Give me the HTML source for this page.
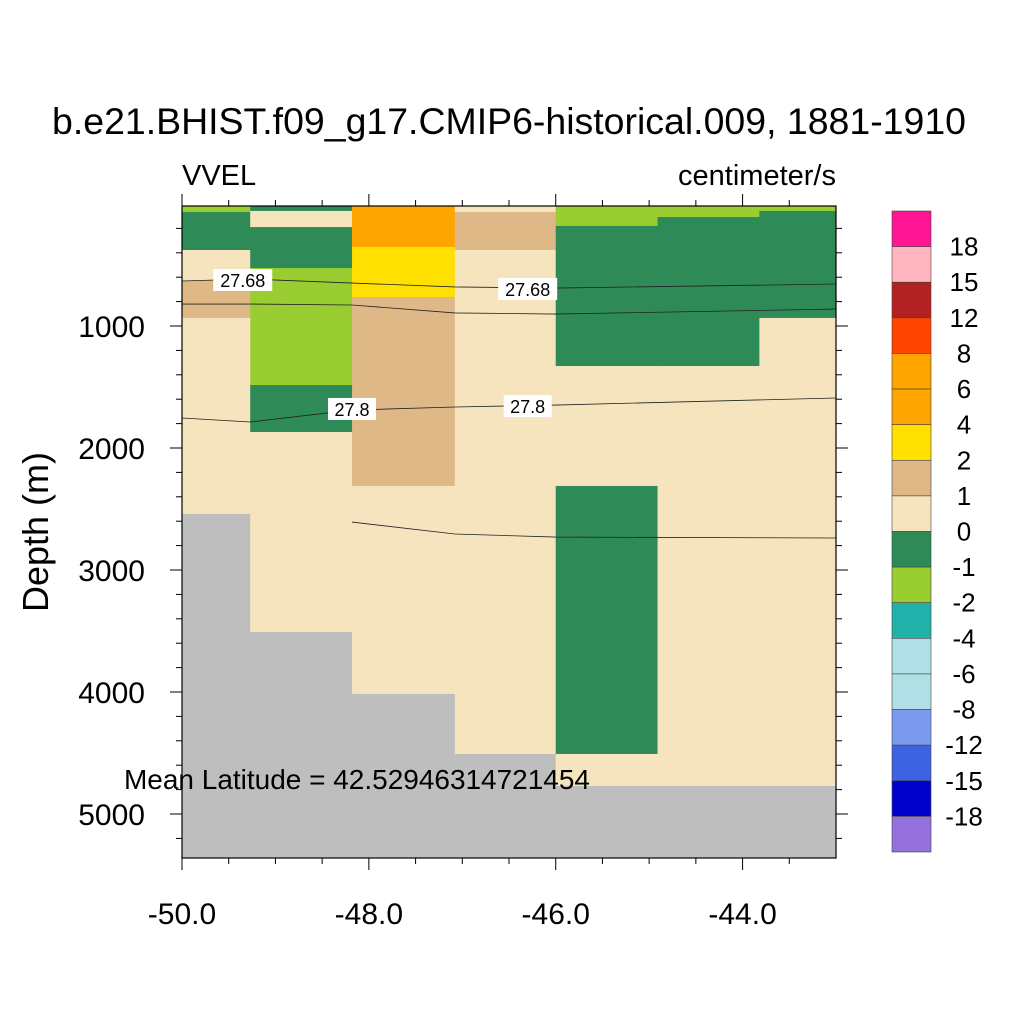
<!DOCTYPE html>
<html><head><meta charset="utf-8"><style>
body{margin:0;background:#fff;}
svg{display:block;font-family:"Liberation Sans",sans-serif;}
</style></head><body>
<svg id="chart" width="1024" height="1024" viewBox="0 0 1024 1024">
<rect width="1024" height="1024" fill="#fff"/>
<text x="509" y="134" font-size="37" text-anchor="middle" textLength="914" lengthAdjust="spacingAndGlyphs">b.e21.BHIST.f09_g17.CMIP6-historical.009, 1881-1910</text>
<text x="182" y="185" font-size="29">VVEL</text>
<text x="836" y="185" font-size="29" text-anchor="end">centimeter/s</text>
<g id="plot"></g>
<g id="axes"></g>
<g id="cbar"></g>
<text x="124" y="789" font-size="28" textLength="466" lengthAdjust="spacingAndGlyphs">Mean Latitude = 42.52946314721454</text>
<text transform="translate(48,532) rotate(-90)" font-size="36" text-anchor="middle">Depth (m)</text>
</svg>
<script>
// column lon edges
const colEdges = [-50.0, -49.27, -48.18, -47.08, -46.0, -44.91, -43.82, -43.0];
// cells per column: [depthTop, depthBottom, colorKey]
const columns = [
 [[0,66,'lg'],[66,377,'dg'],[377,627,'cr'],[627,934,'tan'],[934,2540,'cr'],[2540,5400,'gray']],
 [[0,57,'dg'],[57,189,'cr'],[189,525,'dg'],[525,1484,'lg'],[1484,1869,'dg'],[1869,3508,'cr'],[3508,5400,'gray']],
 [[0,352,'or'],[352,762,'ye'],[762,2311,'tan'],[2311,4016,'cr'],[4016,5400,'gray']],
 [[0,66,'cr'],[66,377,'tan'],[377,4508,'cr'],[4508,5400,'gray']],
 [[0,180,'lg'],[180,1328,'dg'],[1328,2311,'cr'],[2311,4508,'dg'],[4508,4770,'cr'],[4770,5400,'gray']],
 [[0,107,'lg'],[107,1328,'dg'],[1328,4770,'cr'],[4770,5400,'gray']],
 [[0,57,'lg'],[57,934,'dg'],[934,4770,'cr'],[4770,5400,'gray']]
];
const palette = {lg:'#9acd32',dg:'#2e8b57',cr:'#f5e4bd',tan:'#deb887',or:'#ffa500',ye:'#ffe000',gray:'#bebebe'};
// contour lines: lon and depth arrays
const contourLon = [-50.0, -49.27, -48.18, -47.08, -46.0, -43.0];
const contour1 = [631, 615, 648, 680, 689, 656];
const contour2 = [820, 820, 828, 893, 902, 861];
const contour3 = [1754, 1787, 1689, 1664, 1648, 1590];
const contour4Lon = [-48.18, -47.08, -46.0, -43.0];
const contour4 = [2607, 2705, 2730, 2738];
const contourLabels = [[-49.35,623,'27.68'],[-46.3,696,'27.68'],[-48.18,1680,'27.8'],[-46.3,1656,'27.8']];
const xTicks = [-50,-48,-46,-44];
const yTicks = [1000,2000,3000,4000,5000];
const cbarLabels = ['18','15','12','8','6','4','2','1','0','-1','-2','-4','-6','-8','-12','-15','-18'];
const cbarColors = ['#ff1493','#ffb6c1','#b22222','#ff4500','#ffa500','#ffa500','#ffe000','#deb887','#f5e4bd','#2e8b57','#9acd32','#20b2aa','#b0dfe5','#b0dfe5','#7b9aef','#3c63e2','#0000cd','#9370db'];

const X0=182,X1=836,Y0=206,Y1=858;
const sx = v => X0 + (v+50)/7*(X1-X0);
const sy = d => Math.min(Y1, Math.max(Y0, 204 + d*0.122));
const NS='http://www.w3.org/2000/svg';
function mk(tag, attrs, parent){const e=document.createElementNS(NS,tag);for(const k in attrs)e.setAttribute(k,attrs[k]);parent.appendChild(e);return e;}
const plot=document.getElementById('plot'), axes=document.getElementById('axes'), cbar=document.getElementById('cbar');

columns.forEach((cells,i)=>{
  cells.forEach(c=>{
    const y0=sy(c[0]), y1=sy(c[1]);
    const r=mk('rect',{x:sx(colEdges[i]),y:y0,width:sx(colEdges[i+1])-sx(colEdges[i])+0.5,height:y1-y0+0.5,fill:palette[c[2]]},plot);
    
    
  });
});
function line(lons, deps, name){
  const p=mk('polyline',{points:lons.map((l,i)=>sx(l)+','+sy(deps[i])).join(' '),fill:'none',stroke:'#222','stroke-width':0.8},plot);
  
  
}
line(contourLon, contour1, 'contour-27-68');
line(contourLon, contour2, 'contour-line-2');
line(contourLon, contour3, 'contour-27-8');
line(contour4Lon, contour4, 'contour-line-4');
contourLabels.forEach(l=>{
  const x=sx(l[0]), y=sy(l[1]);
  const w=l[2].length*11+4;
  const r=mk('rect',{x:x-w/2,y:y-11,width:w,height:22,fill:'#fff'},plot);
  
  
  const t=mk('text',{x:x,y:y+7,'font-size':18,'text-anchor':'middle'},plot);
  t.textContent=l[2];
  
  
});
mk('rect',{x:X0,y:Y0,width:X1-X0,height:Y1-Y0,fill:'none',stroke:'#000','stroke-width':1.2},axes);
for(let v=-50; v<=-43.001; v+=0.5){
  const major = Math.abs(v-Math.round(v))<1e-6 && Math.round(v)%2===0;
  const L = major?12:6, x=sx(v);
  mk('line',{x1:x,y1:Y1,x2:x,y2:Y1+L,stroke:'#000'},axes);
  mk('line',{x1:x,y1:Y0,x2:x,y2:Y0-L,stroke:'#000'},axes);
}
xTicks.forEach(v=>{
  const t=mk('text',{x:sx(v),y:924,'font-size':30,'text-anchor':'middle'},axes);
  t.textContent=v.toFixed(1);
  
  
});
for(let d=200; d<=5400; d+=200){
  const y=204+d*0.122; if(y>Y1) break;
  const major = d%1000===0, L=major?12:6;
  mk('line',{x1:X0,y1:y,x2:X0-L,y2:y,stroke:'#000'},axes);
  mk('line',{x1:X1,y1:y,x2:X1+L,y2:y,stroke:'#000'},axes);
}
yTicks.forEach(d=>{
  const t=mk('text',{x:145,y:sy(d)+11,'font-size':30,'text-anchor':'end'},axes);
  t.textContent=d;
  
  
});
const CB0=211, CBh=(852-211)/cbarColors.length;
cbarColors.forEach((c,i)=>{
  const r=mk('rect',{x:892,y:CB0+i*CBh,width:39,height:CBh,fill:c,stroke:'#444','stroke-width':0.6},cbar);
  
  
});
cbarLabels.forEach((s,i)=>{
  const t=mk('text',{x:964,y:CB0+(i+1)*CBh+9,'font-size':26,'text-anchor':'middle'},cbar);
  t.textContent=s;
  
  
});
</script>
</body></html>
